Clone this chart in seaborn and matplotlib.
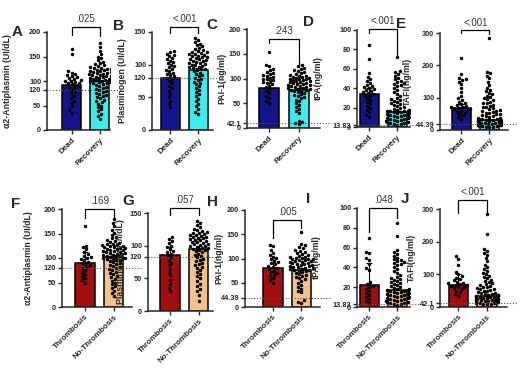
import pandas as pd
import matplotlib
matplotlib.use("Agg")
import matplotlib.pyplot as plt
import seaborn as sns

sns.set_theme(style="ticks")
plt.rcParams["font.family"] = ["Liberation Sans", "DejaVu Sans"]

W, H = 520, 373

# ===== data =====
groups_top = ["Dead", "Recovery"]
groups_bot = ["Thrombosis", "No-Thrombosis"]
colors_top = ["#14148A", "#38EEEE"]
colors_bot = ["#A30D0D", "#F5C18D"]

letters = ["A", "B", "C", "D", "E", "F", "G", "H", "I", "J"]
ylabels = ["α2-Antiplasmin (UI/dL)", "Plasminogen (UI/dL)", "PAI-1(ng/ml)", "tPA(ng/ml)", "TAFI(ng/ml)",
           "α2-Antiplasmin (UI/dL)", "Plasminogen (UI/dL)", "PAI-1(ng/ml)", "tPA(ng/ml)", "TAFI(ng/ml)"]
pvalues = [".025", "<.001", ".243", "<.001", "<.001", ".169", ".057", ".005", ".048", "<.001"]
ymax = [200, 150, 200, 100, 300, 200, 150, 200, 100, 300]
ytick_step = [50, 50, 50, 20, 100, 50, 50, 50, 20, 100]
ref_labels = ["120", "120", "42.1", "13.83", "44.39", "120", "120", "44.39", "13.83", "42.1"]
ref_values = [82, 80, 10, 2, 18, 80, 83, 18.6, 3, 12]

means = [[92, 99], [80, 92], [81, 77], [34, 15], [68, 31],
         [90, 103], [86, 95], [80, 76], [22, 17], [67, 35]]
sds = [[10, 4], [8, 3], [10, 3], [6, 2], [12, 4],
       [22, 4], [12, 4], [21, 4], [22, 2], [34, 4]]

A_dead = [165, 155, 120, 117, 115, 112, 110, 108, 106, 104, 102, 100, 99, 97, 96, 95, 93, 90, 88, 85,
          82, 78, 75, 70, 65, 60, 55, 48, 40, 35]
A_rec = [178, 170, 162, 155, 150, 146, 142, 139, 136, 134, 132, 130, 128, 127, 126, 125, 124, 123, 122, 121,
         120, 119, 118, 117, 116, 115, 114, 113, 112, 111, 110, 109, 108, 107, 106, 105, 104, 103, 102, 101,
         100, 99, 98, 97, 96, 95, 94, 92, 90, 88, 86, 84, 82, 80, 78, 76, 74, 72, 70, 68, 65, 62, 60, 57,
         54, 50, 46, 42, 38, 33, 28, 22]
B_dead = [121, 119, 117, 115, 113, 110, 108, 106, 104, 102, 100, 98, 96, 94, 92, 90, 88, 86, 84, 82,
          80, 78, 75, 72, 68, 64, 60, 55, 50, 45, 40, 35]
B_rec = [141, 138, 135, 132, 130, 128, 126, 124, 122, 121, 120, 119, 118, 117, 116, 115, 114, 113, 112, 111,
         110, 109, 108, 107, 106, 105, 104, 103, 102, 101, 100, 99, 98, 97, 96, 95, 94, 93, 92, 90, 88, 86,
         84, 82, 80, 78, 76, 74, 72, 70, 67, 64, 61, 58, 55, 52, 48, 44, 40, 36, 32, 28, 25]
C_dead = [153, 128, 125, 120, 117, 114, 112, 110, 108, 106, 104, 102, 100, 98, 96, 94, 92, 90, 88, 85,
          82, 78, 74, 70, 65, 60, 55, 50]
C_rec = [128, 125, 122, 120, 118, 116, 114, 112, 110, 108, 106, 105, 104, 103, 102, 101, 100, 99, 98, 97,
         96, 95, 94, 93, 92, 91, 90, 89, 88, 87, 86, 85, 84, 83, 82, 81, 80, 79, 78, 77, 76, 75, 74, 72,
         70, 68, 66, 64, 62, 60, 57, 54, 50, 46, 42, 38, 34, 30, 15, 12, 10, 8]
D_dead = [85, 70, 56, 52, 49, 47, 45, 43, 42, 41, 40, 39, 38, 37, 36, 35, 34, 33, 32, 30, 28, 26, 24, 22,
          20, 18, 15, 12, 10]
D_rec = [72, 58, 57, 55, 53, 51, 49, 47, 46, 45, 44, 43, 42, 40, 38, 36, 34, 32, 30, 29, 28, 27, 26, 25,
         24, 23, 22, 21, 20, 19, 18, 18, 17, 17, 16, 16, 15, 15, 14, 14, 13, 13, 12, 12, 11, 11, 10, 10,
         9, 9, 8, 8, 7, 7, 6, 6, 5, 5, 4, 4, 3, 3, 2]
E_dead = [222, 172, 162, 158, 155, 150, 142, 130, 118, 105, 98, 92, 88, 84, 80, 77, 74, 72, 70, 68, 66,
          64, 62, 60, 57, 54, 50, 45, 40, 35]
E_rec = [285, 180, 175, 168, 160, 150, 140, 130, 125, 120, 115, 110, 106, 102, 98, 95, 92, 88, 85, 82,
         78, 75, 72, 70, 67, 64, 62, 60, 58, 56, 54, 52, 50, 48, 46, 44, 42, 40, 38, 36, 35, 34, 33, 32,
         31, 30, 29, 28, 27, 26, 25, 24, 23, 22, 21, 20, 19, 18, 17, 16, 15, 14, 13, 12, 11, 10, 9, 8]
F_thr = [165, 125, 122, 118, 112, 108, 105, 102, 100, 98, 95, 92, 90, 88, 85, 82, 80, 76, 72, 68, 64,
         60, 55, 50]
F_nt = [180, 172, 165, 158, 152, 147, 143, 140, 137, 135, 133, 131, 129, 128, 127, 126, 125, 124, 123, 122,
        121, 120, 119, 118, 117, 116, 115, 114, 113, 112, 111, 110, 109, 108, 107, 106, 105, 104, 103, 102,
        101, 100, 99, 98, 97, 96, 95, 93, 91, 89, 87, 85, 83, 81, 79, 77, 75, 72, 70, 67, 64, 61, 58, 54,
        50, 46, 42, 38, 33, 28, 22]
G_thr = [113, 110, 107, 104, 100, 98, 95, 92, 90, 88, 85, 82, 78, 74, 70, 65, 60, 55, 48, 42, 35, 30]
G_nt = [138, 134, 131, 128, 126, 124, 122, 121, 120, 119, 118, 117, 116, 115, 114, 113, 112, 111, 110, 109,
        108, 107, 106, 105, 104, 103, 102, 101, 100, 99, 98, 97, 96, 95, 94, 93, 92, 90, 88, 86, 84, 82,
        80, 78, 76, 74, 72, 70, 68, 66, 63, 60, 57, 54, 50, 46, 42, 38, 34, 30, 25, 15]
H_thr = [128, 125, 118, 112, 108, 104, 101, 98, 95, 92, 90, 88, 85, 82, 80, 78, 75, 72, 70, 67, 64, 60,
         55, 50]
H_nt = [155, 130, 127, 124, 121, 118, 116, 114, 112, 110, 108, 106, 104, 103, 102, 101, 100, 99, 98, 97,
        96, 95, 94, 93, 92, 91, 90, 89, 88, 87, 86, 85, 84, 83, 82, 81, 80, 79, 78, 77, 76, 75, 74, 72,
        70, 68, 66, 64, 62, 60, 57, 54, 50, 46, 42, 38, 34, 30, 14, 11, 9]
I_thr = [70, 56, 55, 49, 47, 43, 39, 37, 25, 23, 21, 20, 18, 16, 14, 12, 10, 8, 6, 4]
I_nt = [85, 72, 58, 56, 54, 52, 50, 48, 47, 46, 45, 44, 43, 42, 40, 38, 36, 34, 32, 30, 29, 28, 27, 26,
        25, 24, 23, 22, 21, 20, 19, 18, 18, 17, 17, 16, 16, 15, 15, 14, 14, 13, 13, 12, 12, 11, 11, 10,
        10, 9, 9, 8, 8, 7, 7, 6, 6, 5, 5, 4, 4, 3, 3, 2]
J_thr = [155, 148, 130, 108, 100, 95, 90, 86, 82, 78, 75, 72, 70, 68, 66, 64, 62, 60, 57, 54, 50, 45,
         40, 35]
J_nt = [285, 222, 178, 172, 165, 160, 150, 140, 130, 122, 115, 110, 105, 100, 96, 92, 88, 84, 80, 76,
        73, 70, 67, 64, 62, 60, 58, 56, 54, 52, 50, 48, 46, 44, 42, 40, 39, 38, 37, 36, 35, 34, 33, 32,
        31, 30, 29, 28, 27, 26, 25, 24, 23, 22, 21, 20, 19, 18, 17, 16, 15, 14, 13, 12, 11, 10, 9, 8]

points = [(A_dead, A_rec), (B_dead, B_rec), (C_dead, C_rec), (D_dead, D_rec), (E_dead, E_rec),
          (F_thr, F_nt), (G_thr, G_nt), (H_thr, H_nt), (I_thr, I_nt), (J_thr, J_nt)]

# ===== layout (pixels) =====
# axes rect: left, right, top, bottom
rects = [(47, 110, 32, 130), (152, 213, 32, 130), (247, 320, 29, 128), (357, 410, 30, 127), (440, 508, 33, 130),
         (62, 132, 209, 307), (148, 213, 213, 311), (245, 320, 210, 307), (357, 410, 208, 307), (440, 507, 209, 307)]
xlims = [(-0.89, 1.36), (-0.66, 1.52), (-0.73, 1.7), (-0.43, 1.45), (-0.76, 1.66),
         (-0.81, 1.65), (-0.76, 1.5), (-0.98, 1.65), (-0.43, 1.45), (-0.64, 1.7)]
# y label centre, pixels left of the spine
ylab_off = [35, 25, 21, 34, 28, 29, 23, 22, 36, 24]
# bracket: top, left leg end, right leg end (data units)
brackets = [(210, 194, 192), (158, 148, 148), (180, 172, 123), (101, 97, 74), (308, 300, 296),
            (200, 182, 184), (158, 147, 147), (179, 142, 163), (100, 76, 90), (327, 288, 288)]
letter_pos = [(17, 32), (118, 26), (212, 25), (309, 22), (401, 24),
              (16, 204), (128, 201), (212, 202), (308, 199), (405, 199)]
ref_colors = ["#505050"] * 5 + ["#B03A3A", "#505050", "#505050", "#8A4A4A", "#505050"]

fig = plt.figure(figsize=(W / 100, H / 100), dpi=100)

for i in range(10):
    l, r, t, b = rects[i]
    ax = fig.add_axes([l / W, 1 - b / H, (r - l) / W, (b - t) / H])
    cats = groups_top if i < 5 else groups_bot
    cols = colors_top if i < 5 else colors_bot
    g1, g2 = points[i]
    df = pd.DataFrame({"group": [cats[0]] * len(g1) + [cats[1]] * len(g2), "value": g1 + g2})

    sns.barplot(x=cats, y=means[i], hue=cats, palette=cols, order=cats, width=0.68, saturation=1,
                edgecolor="black", linewidth=1.1, ax=ax, legend=False, zorder=1)
    ax.set_xlim(*xlims[i])
    ax.set_ylim(0, ymax[i])
    sns.swarmplot(data=df, x="group", y="value", order=cats, color="black", size=2.5,
                  ax=ax, zorder=3, warn_thresh=1, linewidth=0)
    ax.errorbar([0, 1], means[i], yerr=[[0, 0], sds[i]], fmt="none", ecolor="black",
                elinewidth=0.8, capsize=2, capthick=0.8, zorder=4)
    ax.set_xlim(*xlims[i])
    ax.set_ylim(0, ymax[i])

    # dotted reference line
    x0, x1 = xlims[i]
    ax.plot([x0, x1 + 0.35], [ref_values[i], ref_values[i]], ls=(0, (1, 1.6)), lw=0.8,
            color=ref_colors[i], clip_on=False, zorder=5)

    major = list(range(0, ymax[i] + 1, ytick_step[i]))
    ax.set_yticks(major + [ref_values[i]], [str(v) for v in major] + [ref_labels[i]])
    ax.set_xticks([0, 1], cats)
    for lab in ax.get_xticklabels():
        lab.set_rotation(45)
        lab.set_ha("right")
        lab.set_rotation_mode("anchor")
    ax.tick_params(axis="y", labelsize=5.3, width=1, length=3, pad=1.2)
    ax.tick_params(axis="x", labelsize=5.8, width=1, length=3, pad=1.5)
    for lab in ax.get_xticklabels() + ax.get_yticklabels():
        lab.set_fontweight("bold")
    ax.set_xlabel("")
    ax.set_ylabel(ylabels[i], fontsize=6.3, fontweight="bold")
    ax.yaxis.set_label_coords(-ylab_off[i] / (r - l), 0.5)
    sns.despine(ax=ax)
    for s in ["left", "bottom"]:
        ax.spines[s].set_linewidth(1.1)

    # significance bracket
    top, leg1, leg2 = brackets[i]
    ax.plot([0, 0, 1, 1], [leg1, top, top, leg2], color="black", lw=0.9, clip_on=False, zorder=6)
    ax.annotate(pvalues[i], xy=(0.5, top), xytext=(0, 2), textcoords="offset points",
                ha="center", va="bottom", fontsize=7, color="#333333", annotation_clip=False)

    lx, ly = letter_pos[i]
    fig.text(lx / W, 1 - ly / H, letters[i], ha="center", va="center", fontsize=11, fontweight="bold")

fig.savefig("out.png", dpi=100)
